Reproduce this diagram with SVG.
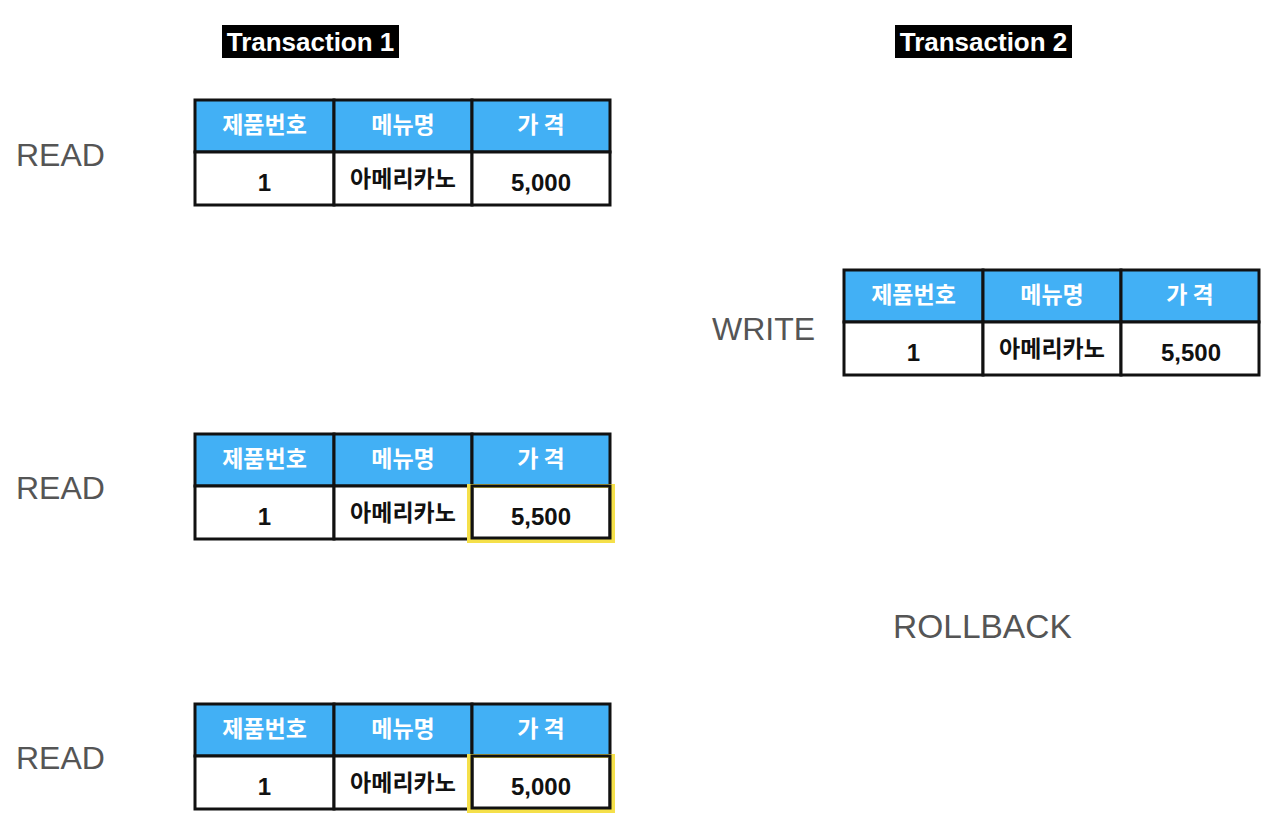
<svg xmlns="http://www.w3.org/2000/svg" width="1280" height="831" viewBox="0 0 1280 831">
<defs>
<style>
.lbl{font-family:"Liberation Sans",Arial,sans-serif;font-size:32px;fill:#555;}
.tx{font-family:"Liberation Sans",Arial,sans-serif;font-size:26px;font-weight:bold;fill:#fff;text-anchor:middle;}
.hd{fill:#42b0f5;stroke:#111;stroke-width:3;}
.cell{fill:#fff;stroke:#111;stroke-width:3;}
.ht{font-family:"Noto Sans CJK KR","Noto Sans",sans-serif;font-size:23px;font-weight:bold;fill:#fff;text-anchor:middle;}
.dt{font-family:"Liberation Sans","Noto Sans CJK KR",sans-serif;font-size:24px;font-weight:bold;fill:#111;text-anchor:middle;}
.dk{font-family:"Noto Sans CJK KR",sans-serif;font-size:23px;font-weight:bold;fill:#111;text-anchor:middle;}
.hl{fill:none;stroke:#f5e04a;stroke-width:4;}
</style>
<g id="tbl">
<rect class="hd" x="0" y="0" width="139" height="52"/>
<rect class="hd" x="139" y="0" width="138" height="52"/>
<rect class="hd" x="277" y="0" width="138" height="52"/>
<rect class="cell" x="0" y="52" width="139" height="53"/>
<rect class="cell" x="139" y="52" width="138" height="53"/>
<rect class="cell" x="277" y="52" width="138" height="53"/>
<text class="ht" x="69.5" y="33">제품번호</text>
<text class="ht" x="208" y="33">메뉴명</text>
<text class="ht" x="346" y="33">가 격</text>
<text class="dt" x="69.5" y="91">1</text>
<text class="dk" x="208" y="87">아메리카노</text>
</g>
</defs>
<g id="transaction1">
<rect x="222" y="25" width="177" height="33" fill="#000"/>
<text class="tx" x="310.5" y="51">Transaction 1</text>
</g>
<g id="transaction2">
<rect x="895" y="25" width="177" height="33" fill="#000"/>
<text class="tx" x="983.5" y="51">Transaction 2</text>
</g>
<g id="read1">
<text class="lbl" x="16" y="166">READ</text>
<use href="#tbl" x="195" y="100"/>
<text class="dt" x="541" y="191">5,000</text>
</g>
<g id="write">
<text class="lbl" x="712" y="340">WRITE</text>
<use href="#tbl" x="844" y="270"/>
<text class="dt" x="1191" y="361">5,500</text>
</g>
<g id="read2">
<text class="lbl" x="16" y="499">READ</text>
<use href="#tbl" x="195" y="434"/>
<rect class="hl" x="469" y="486" width="144" height="55"/>
<rect class="cell" x="472" y="486" width="138" height="52" style="fill:none"/>
<text class="dt" x="541" y="525">5,500</text>
</g>
<g id="rollback">
<text class="lbl" x="893" y="638" style="font-size:33.5px">ROLLBACK</text>
</g>
<g id="read3">
<text class="lbl" x="16" y="769">READ</text>
<use href="#tbl" x="195" y="704"/>
<rect class="hl" x="469" y="756" width="144" height="55"/>
<rect class="cell" x="472" y="756" width="138" height="52" style="fill:none"/>
<text class="dt" x="541" y="795">5,000</text>
</g>
<g id="connectors"/>
</svg>
